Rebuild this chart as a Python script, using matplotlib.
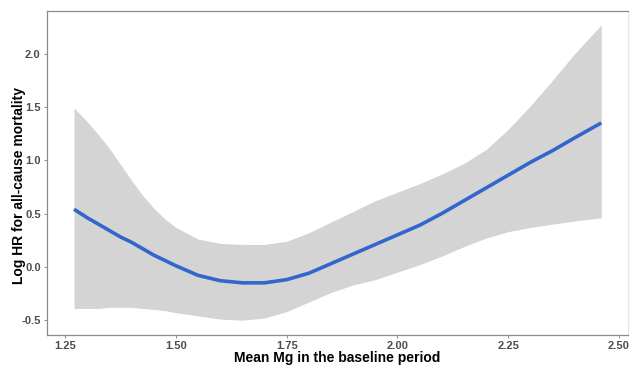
import numpy as np
import matplotlib
matplotlib.use('Agg')
import matplotlib.pyplot as plt

plt.rcParams['font.family'] = ['Liberation Sans', 'DejaVu Sans']

# Spline estimate with 95% CI
mg = [1.27, 1.30, 1.325, 1.35, 1.375, 1.40, 1.425, 1.45, 1.475, 1.50, 1.55, 1.60, 1.65, 1.70,
      1.75, 1.80, 1.85, 1.90, 1.95, 2.00, 2.05, 2.10, 2.15, 2.20, 2.25, 2.30, 2.35, 2.40, 2.46]
log_hr = [0.54, 0.46, 0.40, 0.34, 0.28, 0.23, 0.17, 0.11, 0.06, 0.01, -0.08, -0.13, -0.15, -0.15,
          -0.12, -0.06, 0.03, 0.12, 0.21, 0.30, 0.39, 0.50, 0.62, 0.74, 0.86, 0.98, 1.09, 1.21, 1.35]
upper = [1.49, 1.36, 1.24, 1.11, 0.96, 0.81, 0.67, 0.55, 0.45, 0.37, 0.26, 0.22, 0.21, 0.21,
         0.24, 0.32, 0.42, 0.52, 0.62, 0.70, 0.78, 0.87, 0.97, 1.10, 1.29, 1.51, 1.75, 2.00, 2.27]
lower = [-0.39, -0.39, -0.39, -0.38, -0.38, -0.38, -0.39, -0.40, -0.41, -0.43, -0.46, -0.49, -0.50, -0.48,
         -0.42, -0.33, -0.24, -0.17, -0.12, -0.05, 0.02, 0.10, 0.19, 0.27, 0.33, 0.37, 0.40, 0.43, 0.46]

xticks = [1.25, 1.50, 1.75, 2.00, 2.25, 2.50]
yticks = [-0.5, 0.0, 0.5, 1.0, 1.5, 2.0]

fig = plt.figure(figsize=(6.3, 3.65), dpi=100)
ax = fig.add_axes([0.0746, 0.082, 0.922, 0.888])

ax.fill_between(mg, lower, upper, color='#d4d4d4', linewidth=0)
ax.plot(mg, log_hr, color='#3366cc', linewidth=2.6, solid_capstyle='butt',
        solid_joinstyle='round')

ax.set_xlim(1.209, 2.52)
ax.set_ylim(-0.64, 2.40)
ax.set_xticks(xticks)
ax.set_xticklabels(['%.2f' % t for t in xticks])
ax.set_yticks(yticks)
ax.set_yticklabels(['%.1f' % t for t in yticks])

for s in ax.spines.values():
    s.set_color('#8a8a8a')
    s.set_linewidth(0.9)
ax.spines['right'].set_color('#e6e6e6')

ax.tick_params(axis='both', length=2.5, width=0.7, color='#8a8a8a',
               labelsize=8, labelcolor='#4d4d4d', pad=2)
for lab in ax.get_xticklabels() + ax.get_yticklabels():
    lab.set_fontweight('bold')

ax.set_xlabel('Mean Mg in the baseline period', fontsize=10, fontweight='bold', labelpad=0)
ax.set_ylabel('Log HR for all-cause mortality', fontsize=10, fontweight='bold')
ax.yaxis.set_label_coords(-0.036, 0.463)

fig.savefig('out.png', dpi=100)
